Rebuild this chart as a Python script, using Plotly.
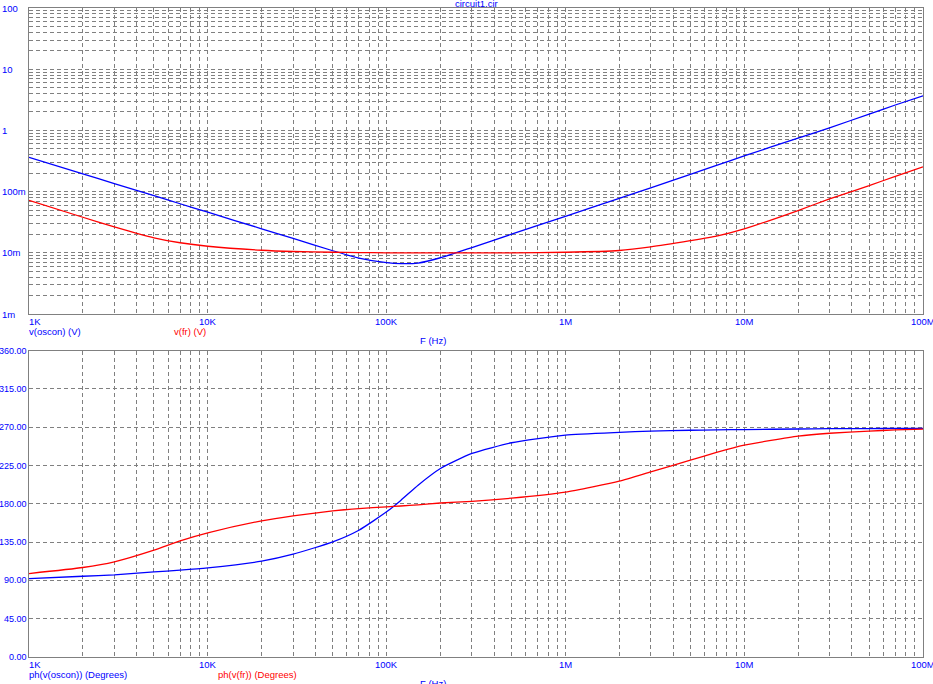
import math
import plotly.graph_objects as go

# ---------------- data ----------------
freq = [1e3, 2e3, 3e3, 5e3, 7e3, 1e4, 2e4, 3e4, 5e4, 7e4, 1e5, 1.2e5, 1.5e5, 2e5,
        3e5, 5e5, 1e6, 2e6, 3e6, 5e6, 7e6, 1e7, 2e7, 3e7, 5e7, 7e7, 1e8]

mag_oscon = [0.363, 0.195, 0.1355, 0.0857, 0.0633, 0.046, 0.0247, 0.0172, 0.0108, 0.0082,
             0.0069, 0.00665, 0.0068, 0.0083, 0.0122, 0.0201, 0.0395, 0.0778, 0.115, 0.191,
             0.268, 0.382, 0.75, 1.1, 1.85, 2.6, 3.68]

mag_fr = [0.0721, 0.0381, 0.0266, 0.0176, 0.0146, 0.0128, 0.0110, 0.0105, 0.0102, 0.0101,
          0.0100, 0.0100, 0.0100, 0.0100, 0.0100, 0.0100, 0.0102, 0.0109, 0.0125, 0.0158,
          0.0187, 0.0246, 0.049, 0.076, 0.125, 0.178, 0.253]

ph_oscon = [92.2, 94.9, 96.5, 100.0, 102.0, 104.7, 112.6, 120.8, 135.3, 149.0,
            170.6, 184.0, 202.0, 221.6, 239.3, 251.8, 260.8, 264.0, 265.5, 266.5,
            267.0, 267.3, 268.0, 268.3, 268.5, 268.6, 268.7]

ph_fr = [98.1, 105.2, 111.8, 125.5, 136.5, 145.9, 160.0, 165.9, 171.8, 174.5,
         176.5, 177.5, 178.8, 181.0, 183.0, 186.7, 193.8, 206.7, 217.6, 231.4,
         240.5, 249.0, 259.6, 263.0, 265.5, 266.9, 267.9]

x_tick_vals = [1e3, 1e4, 1e5, 1e6, 1e7, 1e8]
x_tick_text = ["1K", "10K", "100K", "1M", "10M", "100M"]
mag_tick_vals = [100, 10, 1, 0.1, 0.01, 0.001]
mag_tick_text = ["100", "10", "1", "100m", "10m", "1m"]
ph_tick_vals = [0, 45, 90, 135, 180, 225, 270, 315, 360]
ph_tick_text = ["0.00", "45.00", "90.00", "135.00", "180.00", "225.00", "270.00", "315.00", "360.00"]

title_text = "circuit1.cir"
mag_labels = ["v(oscon) (V)", "v(fr) (V)"]
ph_labels = ["ph(v(oscon)) (Degrees)", "ph(v(fr)) (Degrees)"]
x_title = "F (Hz)"

# ---------------- style ----------------
BLUE = "#0000ff"
RED = "#ff0000"
GRID = "#808080"
FONT = "Liberation Sans"
FS = 9.5

W, H = 933, 684
ML, MR, MT, MB = 29, 10, 8, 27
plot_h = H - MT - MB
top_dom = [(657 - 314) / plot_h, 1.0]
bot_dom = [0.0, (657 - 350.7) / plot_h]

x_grid = [k * 10 ** e for e in range(3, 8) for k in range(1, 10)] + [1e8]
y_grid = [k * 10.0 ** e for e in range(-3, 2) for k in range(1, 10)] + [100]

fig = go.Figure()
fig.add_trace(go.Scatter(x=freq, y=mag_oscon, mode="lines", xaxis="x", yaxis="y",
                         line=dict(color=BLUE, width=1.3, shape="spline", smoothing=0.5)))
fig.add_trace(go.Scatter(x=freq, y=mag_fr, mode="lines", xaxis="x", yaxis="y",
                         line=dict(color=RED, width=1.3, shape="spline", smoothing=0.5)))
fig.add_trace(go.Scatter(x=freq, y=ph_oscon, mode="lines", xaxis="x2", yaxis="y2",
                         line=dict(color=BLUE, width=1.3, shape="spline", smoothing=0.5)))
fig.add_trace(go.Scatter(x=freq, y=ph_fr, mode="lines", xaxis="x2", yaxis="y2",
                         line=dict(color=RED, width=1.3, shape="spline", smoothing=0.5)))

axis_common = dict(showgrid=True, gridcolor=GRID, gridwidth=1, griddash="4px,3px",
                   showline=True, linecolor=GRID, linewidth=1, mirror=True,
                   ticks="", showticklabels=False, zeroline=False, fixedrange=True)

fig.update_layout(
    width=W, height=H,
    margin=dict(l=ML, r=MR, t=MT, b=MB),
    paper_bgcolor="white", plot_bgcolor="white",
    showlegend=False,
    font=dict(family=FONT, size=FS, color=BLUE),
    xaxis=dict(type="log", range=[3, 8], domain=[0, 1], anchor="y",
               tickmode="array", tickvals=x_grid, **axis_common),
    yaxis=dict(type="log", range=[-3, 2], domain=top_dom, anchor="x",
               tickmode="array", tickvals=y_grid, **axis_common),
    xaxis2=dict(type="log", range=[3, 8], domain=[0, 1], anchor="y2",
                tickmode="array", tickvals=x_grid, **axis_common),
    yaxis2=dict(type="linear", range=[0, 360], domain=bot_dom, anchor="x2",
                tickmode="array", tickvals=ph_tick_vals, **axis_common),
)

ann = []
def A(size=FS, color=BLUE, **kw):
    d = dict(showarrow=False, borderpad=0, font=dict(family=FONT, size=size, color=color))
    d.update(kw)
    ann.append(d)

# y tick labels (top: left-aligned at x=2, bottom: right-aligned at x=27)
for v, t in zip(mag_tick_vals, mag_tick_text):
    A(text=t, xref="paper", x=0, xanchor="left", xshift=-ML + 1,
      yref="y", y=math.log10(v), yanchor="middle")
for v, t in zip(ph_tick_vals, ph_tick_text):
    A(text=t, size=9, xref="paper", x=0, xanchor="right", xshift=-1,
      yref="y2", y=v, yanchor="middle")

# x tick labels
for v, t in zip(x_tick_vals, x_tick_text):
    anchor = "left" if v == x_tick_vals[0] else "center"
    A(text=t, xref="x", x=math.log10(v), xanchor=anchor, xshift=-1 if anchor == "left" else 0,
      yref="paper", y=top_dom[0], yanchor="middle", yshift=-7)
    A(text=t, xref="x2", x=math.log10(v), xanchor=anchor, xshift=-1 if anchor == "left" else 0,
      yref="paper", y=bot_dom[0], yanchor="middle", yshift=-7)

# trace labels
A(text=mag_labels[0], xref="paper", x=0, xanchor="left", xshift=-1,
  yref="paper", y=top_dom[0], yanchor="middle", yshift=-17)
A(text=mag_labels[1], color=RED, xref="paper", x=(173 - ML) / (W - ML - MR), xanchor="left",
  yref="paper", y=top_dom[0], yanchor="middle", yshift=-17)
A(text=ph_labels[0], xref="paper", x=0, xanchor="left", xshift=-1,
  yref="paper", y=bot_dom[0], yanchor="middle", yshift=-17)
A(text=ph_labels[1], color=RED, xref="paper", x=(217 - ML) / (W - ML - MR), xanchor="left",
  yref="paper", y=bot_dom[0], yanchor="middle", yshift=-17)

# axis titles
A(text=x_title, xref="paper", x=(433 - ML) / (W - ML - MR), xanchor="center",
  yref="paper", y=top_dom[0], yanchor="middle", yshift=-26)
A(text=x_title, xref="paper", x=(433 - ML) / (W - ML - MR), xanchor="center",
  yref="paper", y=bot_dom[0], yanchor="middle", yshift=-26)

# title
A(text=title_text, xref="paper", x=(476 - ML) / (W - ML - MR), xanchor="center",
  yref="paper", y=1, yanchor="middle", yshift=5)

fig.update_layout(annotations=ann)
fig.write_html("out.html", config={"displayModeBar": False},
               post_script="document.body.style.margin='0';document.body.style.padding='0';")
